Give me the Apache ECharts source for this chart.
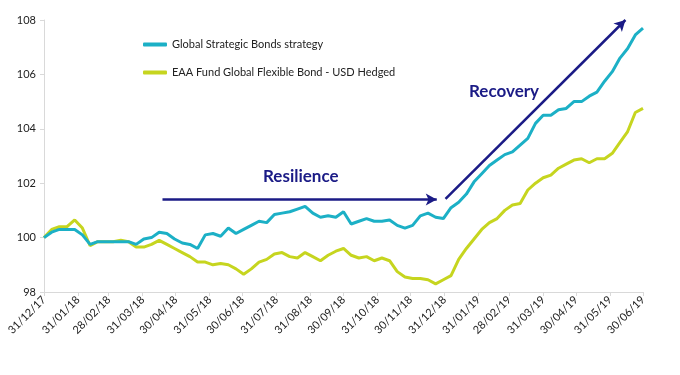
<!DOCTYPE html>
<html>
<head>
<meta charset="utf-8">
<script src="https://cdn.jsdelivr.net/npm/echarts@6/dist/echarts.min.js"></script>
<style>
  html, body { margin: 0; padding: 0; background: #fff; }
  #chart { width: 680px; height: 375px; }
</style>
</head>
<body>
<div id="chart"></div>
<script>
// weekly readings, first one on 31/12/17
const startDate = '2017-12-31';
const stepDays = 7;

const strategyValues = [
  100.0, 100.2, 100.3, 100.3, 100.3, 100.1, 99.75, 99.85, 99.85, 99.85,
  99.85, 99.85, 99.75, 99.95, 100.0, 100.2, 100.15, 99.95, 99.8, 99.75,
  99.6, 100.1, 100.15, 100.05, 100.35, 100.15, 100.3, 100.45, 100.6, 100.55,
  100.85, 100.9, 100.95, 101.05, 101.15, 100.9, 100.75, 100.8, 100.75, 100.95,
  100.5, 100.6, 100.7, 100.6, 100.6, 100.65, 100.45, 100.35, 100.45, 100.8,
  100.9, 100.75, 100.7, 101.1, 101.3, 101.6, 102.05, 102.35, 102.65, 102.85,
  103.05, 103.15, 103.4, 103.65, 104.2, 104.5, 104.5, 104.7, 104.75, 105.0,
  105.0, 105.2, 105.35, 105.75, 106.1, 106.6, 106.95, 107.45, 107.7
];

const fundValues = [
  100.0, 100.3, 100.4, 100.4, 100.65, 100.35, 99.7, 99.85, 99.85, 99.85,
  99.9, 99.85, 99.65, 99.65, 99.75, 99.9, 99.75, 99.6, 99.45, 99.3,
  99.1, 99.1, 99.0, 99.05, 99.0, 98.85, 98.65, 98.85, 99.1, 99.2,
  99.4, 99.45, 99.3, 99.25, 99.45, 99.3, 99.15, 99.35, 99.5, 99.6,
  99.35, 99.25, 99.3, 99.15, 99.25, 99.15, 98.75, 98.55, 98.5, 98.5,
  98.45, 98.3, 98.45, 98.6, 99.2, 99.6, 99.95, 100.3, 100.55, 100.7,
  101.0, 101.2, 101.25, 101.75, 102.0, 102.2, 102.3, 102.55, 102.7, 102.85,
  102.9, 102.75, 102.9, 102.9, 103.1, 103.5, 103.9, 104.6, 104.75
];

const tickLabels = [
  '31/12/17', '31/01/18', '28/02/18', '31/03/18', '30/04/18', '31/05/18',
  '30/06/18', '31/07/18', '31/08/18', '30/09/18', '31/10/18', '30/11/18',
  '31/12/18', '31/01/19', '28/02/19', '31/03/19', '30/04/19', '31/05/19',
  '30/06/19'
];

const seriesNames = ['Global Strategic Bonds strategy', 'EAA Fund Global Flexible Bond - USD Hedged'];
const seriesColors = ['#1cb0c6', '#c6d51f'];
const arrowColor = '#1b1b86';

// arrow ends: [date, value]
const resilienceArrow = [['2018-04-18', 101.4], ['2018-12-24', 101.4]];
const recoveryArrow = [['2019-01-01', 101.42], ['2019-06-14', 108.0]];

// x axis counts days from startDate
const t0 = Date.parse(startDate + 'T00:00:00Z');
const dayOf = iso => Math.round((Date.parse(iso + 'T00:00:00Z') - t0) / 864e5);
const fromLabel = s => { const p = s.split('/'); return '20' + p[2] + '-' + p[1] + '-' + p[0]; };
const tickDays = tickLabels.map(s => dayOf(fromLabel(s)));
const labelByDay = {};
tickDays.forEach((d, i) => { labelByDay[d] = tickLabels[i]; });

const arrowEnd = p => ({ coord: [dayOf(p[0]), p[1]] });

const chart = echarts.init(document.getElementById('chart'), null, { renderer: 'canvas' });

const font = 'Lato, "Liberation Sans", sans-serif';

chart.setOption({
  animation: false,
  textStyle: { fontFamily: font },
  grid: { left: 44, right: 37, top: 20, bottom: 83 },
  legend: {
    orient: 'vertical',
    left: 138,
    top: 34,
    itemGap: 17,
    itemWidth: 24,
    itemHeight: 4,
    icon: 'roundRect',
    data: seriesNames,
    textStyle: { fontSize: 11, color: '#222', fontFamily: font }
  },
  xAxis: {
    type: 'value',
    min: tickDays[0],
    max: tickDays[tickDays.length - 1],
    splitLine: { show: false },
    axisLine: { lineStyle: { color: '#d9d9d9', width: 1 } },
    axisTick: { show: true, length: 4, customValues: tickDays, lineStyle: { color: '#d9d9d9' } },
    axisLabel: {
      customValues: tickDays,
      rotate: 45,
      margin: 6,
      fontSize: 11,
      color: '#222',
      hideOverlap: false,
      formatter: v => labelByDay[Math.round(v)] || ''
    }
  },
  yAxis: {
    type: 'value',
    min: 98,
    max: 108,
    interval: 2,
    splitLine: { show: false },
    axisLine: { show: true, lineStyle: { color: '#d9d9d9', width: 1 } },
    axisTick: { show: true, length: 4, lineStyle: { color: '#d9d9d9' } },
    axisLabel: { fontSize: 11, color: '#222', margin: 8 }
  },
  graphic: [
    {
      type: 'text', left: 263, top: 168,
      style: { text: 'Resilience', fill: arrowColor, font: 'bold 17px ' + font }
    },
    {
      type: 'text', left: 469, top: 83,
      style: { text: 'Recovery', fill: arrowColor, font: 'bold 17px ' + font }
    }
  ],
  series: [
    {
      name: seriesNames[0],
      type: 'line',
      data: strategyValues.map((v, i) => [i * stepDays, v]),
      showSymbol: false,
      z: 3,
      itemStyle: { color: seriesColors[0] },
      lineStyle: { color: seriesColors[0], width: 3 },
      markLine: {
        silent: true,
        symbol: ['none', 'arrow'],
        symbolSize: [9, 11],
        label: { show: false },
        lineStyle: { color: arrowColor, width: 2.5, type: 'solid' },
        emphasis: { disabled: true },
        data: [
          [arrowEnd(resilienceArrow[0]), arrowEnd(resilienceArrow[1])],
          [arrowEnd(recoveryArrow[0]), arrowEnd(recoveryArrow[1])]
        ]
      }
    },
    {
      name: seriesNames[1],
      type: 'line',
      data: fundValues.map((v, i) => [i * stepDays, v]),
      showSymbol: false,
      z: 2,
      itemStyle: { color: seriesColors[1] },
      lineStyle: { color: seriesColors[1], width: 3 }
    }
  ]
});
</script>
</body>
</html>
